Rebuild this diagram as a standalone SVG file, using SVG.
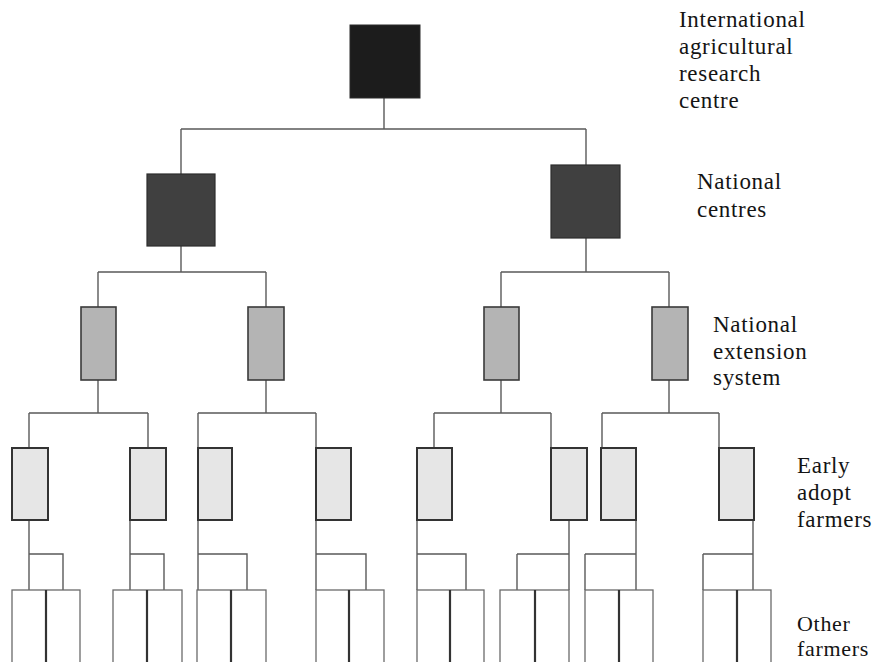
<svg xmlns="http://www.w3.org/2000/svg" width="872" height="662" viewBox="0 0 872 662">
  <style>
    .bg { fill: #ffffff; }
    .link { fill: none; stroke: #5a5a5a; stroke-width: 1.4; }
    .intl { fill: #1c1c1c; stroke: #2a2a2a; stroke-width: 1; }
    .natl { fill: #404040; stroke: #2e2e2e; stroke-width: 1.2; }
    .ext { fill: #b4b4b4; stroke: #3a3a3a; stroke-width: 1.6; }
    .early { fill: #e6e6e6; stroke: #333333; stroke-width: 2; }
    .other { fill: #ffffff; stroke: #6a6a6a; stroke-width: 1.3; }
    .divider { stroke: #333333; stroke-width: 2.2; }
    .label { font-family: 'Liberation Serif', 'Times New Roman', serif; font-size: 23px; letter-spacing: 0.7px; fill: #141414; }
    .label-sm { font-size: 22px; }
  </style>

  <rect class="bg" x="0" y="0" width="872" height="662"/>

  <!-- connectors -->
  <g id="connectors" class="link">
    <!-- international centre to national centres -->
    <path d="M384,98 V129 M181,129 H586 M181,129 V174 M586,129 V165"/>
    <!-- national centres to extension systems -->
    <path d="M181,246 V272 M98,272 H266 M98,272 V307 M266,272 V307"/>
    <path d="M586,238 V272 M501,272 H669 M501,272 V307 M669,272 V307"/>
    <!-- extension systems to early adopters -->
    <path d="M98,380 V413 M29,413 H148 M29,413 V448 M148,413 V448"/>
    <path d="M266,380 V413 M198,413 H316 M198,413 V448 M316,413 V448"/>
    <path d="M501,380 V413 M434,413 H551 M434,413 V448 M551,413 V448"/>
    <path d="M669,380 V413 M602,413 H719 M602,413 V448 M719,413 V448"/>
    <!-- early adopters to other farmers -->
    <path d="M29,520 V590 M29,554 H63 V590"/>
    <path d="M130,520 V590 M130,554 H164 V590"/>
    <path d="M198,520 V590 M198,554 H247 V590"/>
    <path d="M316,520 V590 M316,554 H366 V590"/>
    <path d="M417,520 V590 M417,554 H466 V590"/>
    <path d="M569,520 V590 M517,554 H569 M517,554 V590"/>
    <path d="M636,520 V590 M585,554 H636 M585,554 V590"/>
    <path d="M753,520 V590 M703,554 H753 M703,554 V590"/>
  </g>

  <!-- international centre -->
  <g id="intl-centre"><rect class="intl" x="350" y="25" width="70" height="73"/></g>

  <!-- national centres -->
  <g id="natl-centre-1"><rect class="natl" x="147" y="174" width="68" height="72"/></g>
  <g id="natl-centre-2"><rect class="natl" x="551" y="165" width="69" height="73"/></g>

  <!-- national extension systems -->
  <g id="ext-1"><rect class="ext" x="81" y="307" width="35" height="73"/></g>
  <g id="ext-2"><rect class="ext" x="248" y="307" width="36" height="73"/></g>
  <g id="ext-3"><rect class="ext" x="484" y="307" width="35" height="73"/></g>
  <g id="ext-4"><rect class="ext" x="652" y="307" width="36" height="73"/></g>

  <!-- early adopt farmers -->
  <g id="early-1"><rect class="early" x="12" y="448" width="36" height="72"/></g>
  <g id="early-2"><rect class="early" x="130" y="448" width="36" height="72"/></g>
  <g id="early-3"><rect class="early" x="198" y="448" width="34" height="72"/></g>
  <g id="early-4"><rect class="early" x="316" y="448" width="35" height="72"/></g>
  <g id="early-5"><rect class="early" x="417" y="448" width="35" height="72"/></g>
  <g id="early-6"><rect class="early" x="551" y="448" width="36" height="72"/></g>
  <g id="early-7"><rect class="early" x="601" y="448" width="35" height="72"/></g>
  <g id="early-8"><rect class="early" x="719" y="448" width="35" height="72"/></g>

  <!-- other farmers (pairs of boxes) -->
  <g id="other-1"><rect class="other" x="12" y="590" width="68" height="76"/><line class="divider" x1="46" y1="590" x2="46" y2="666"/></g>
  <g id="other-2"><rect class="other" x="113" y="590" width="69" height="76"/><line class="divider" x1="147" y1="590" x2="147" y2="666"/></g>
  <g id="other-3"><rect class="other" x="197" y="590" width="69" height="76"/><line class="divider" x1="231" y1="590" x2="231" y2="666"/></g>
  <g id="other-4"><rect class="other" x="316" y="590" width="68" height="76"/><line class="divider" x1="349" y1="590" x2="349" y2="666"/></g>
  <g id="other-5"><rect class="other" x="417" y="590" width="67" height="76"/><line class="divider" x1="450" y1="590" x2="450" y2="666"/></g>
  <g id="other-6"><rect class="other" x="500" y="590" width="69" height="76"/><line class="divider" x1="535" y1="590" x2="535" y2="666"/></g>
  <g id="other-7"><rect class="other" x="585" y="590" width="68" height="76"/><line class="divider" x1="619" y1="590" x2="619" y2="666"/></g>
  <g id="other-8"><rect class="other" x="703" y="590" width="68" height="76"/><line class="divider" x1="737" y1="590" x2="737" y2="666"/></g>

  <!-- level labels -->
  <g id="labels" class="label">
    <text x="679" y="27">International</text>
    <text x="679" y="54">agricultural</text>
    <text x="679" y="81">research</text>
    <text x="679" y="108">centre</text>

    <text x="697" y="189">National</text>
    <text x="697" y="217">centres</text>

    <text x="713" y="332">National</text>
    <text x="713" y="359">extension</text>
    <text x="713" y="385">system</text>

    <text x="797" y="473">Early</text>
    <text x="797" y="500">adopt</text>
    <text x="797" y="527">farmers</text>

    <text class="label-sm" x="797" y="631">Other</text>
    <text class="label-sm" x="797" y="656">farmers</text>
  </g>
</svg>
